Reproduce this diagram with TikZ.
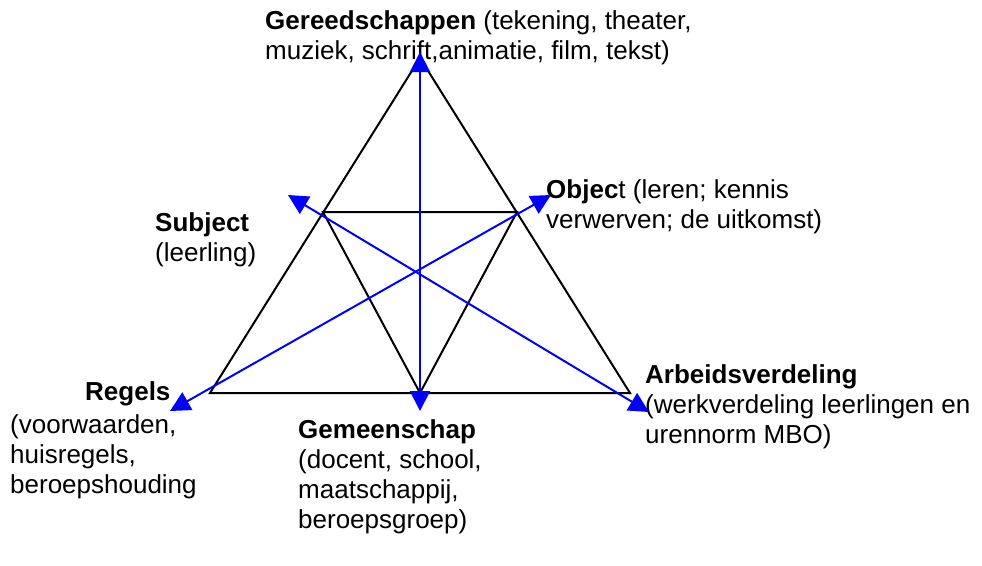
\documentclass[tikz,border=0pt]{standalone}
\usepackage{fontspec}
\setmainfont{Liberation Sans}
\usetikzlibrary{arrows.meta}
\begin{document}
\begin{tikzpicture}[x=1pt,y=-1pt,
  tri/.style={black,line width=2pt,line join=miter},
  blu/.style={draw={rgb,255:red,0;green,0;blue,255},line width=2pt,
    {Triangle[length=20pt,width=20pt]}-{Triangle[length=20pt,width=20pt]}},
  lbl/.style={anchor=base west,inner sep=0pt,align=left,
    font=\fontsize{26}{30}\selectfont}]
\useasboundingbox (0,0) rectangle (982,565);
% big triangle
\coordinate (A) at (420,58);
\coordinate (BL) at (210,393);
\coordinate (BR) at (630,393);
% inner triangle
\coordinate (IL) at (323,212);
\coordinate (IR) at (517,212);
\coordinate (IB) at (420,393);
\draw[tri] (A) -- (BL) -- (BR) -- cycle;
\draw[tri] (IL) -- (IR) -- (IB) -- cycle;
% labels (anchor = baseline of last line)
\node[lbl] (ger) at (265,59) {\textbf{Gereedschappen} (tekening, theater,\\muziek, schrift,animatie, film, tekst)};
\node[lbl] (obj) at (546,228) {\textbf{Objec}t (leren; kennis\\verwerven; de uitkomst)};
\node[lbl] (sub) at (155,261) {\textbf{Subject}\\(leerling)};
\node[lbl] (reg) at (85,400) {\textbf{Regels}};
\node[lbl] (regt) at (10,493) {(voorwaarden,\\huisregels,\\beroepshouding};
\node[lbl] (arb) at (645,443) {\textbf{Arbeidsverdeling}\\(werkverdeling leerlingen en\\urennorm MBO)};
\node[lbl] (gem) at (298,528) {\textbf{Gemeenschap}\\(docent, school,\\maatschappij,\\beroepsgroep)};
% arrow ends
\coordinate (tT) at (420,52);
\coordinate (tB) at (420,411);
\coordinate (tUL) at (288,195);
\coordinate (tLR) at (649,412);
\coordinate (tLL) at (170,411);
\coordinate (tUR) at (551,195);
\draw[blu] (tB) -- (tT);
\draw[blu] (tUL) -- (tLR);
\draw[blu] (tLL) -- (tUR);
\end{tikzpicture}
\end{document}
